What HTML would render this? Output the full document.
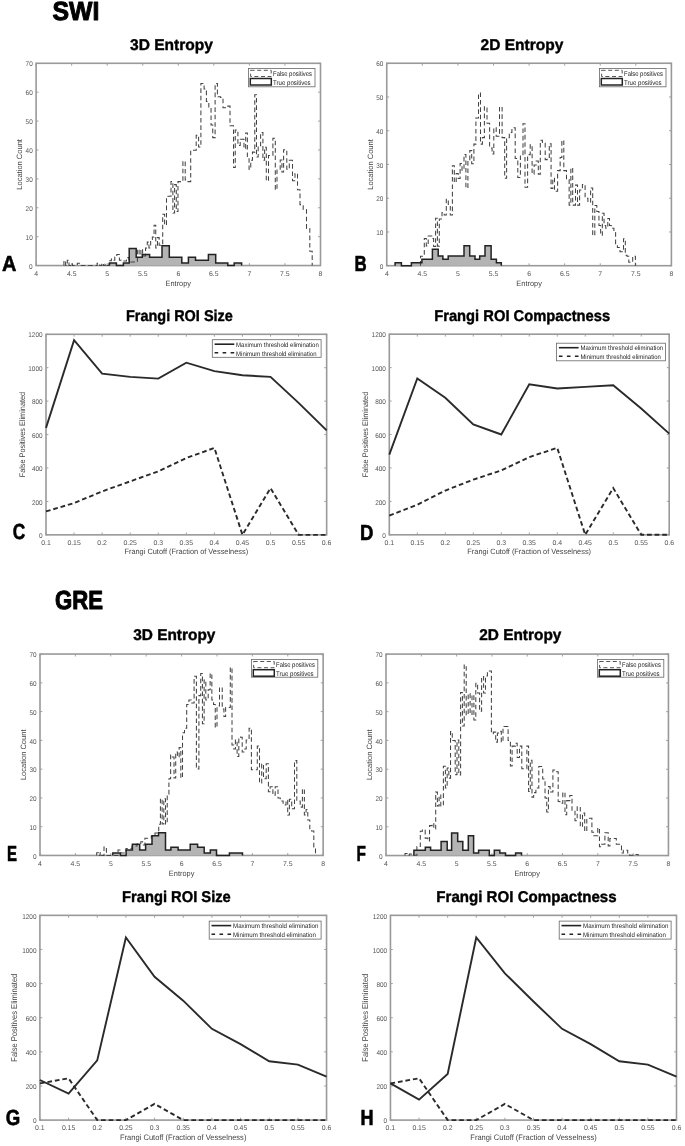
<!DOCTYPE html>
<html><head><meta charset="utf-8"><style>
html,body{margin:0;padding:0;background:#fff;}
svg{display:block;will-change:transform;font-family:"Liberation Sans", sans-serif;}
text{text-rendering:geometricPrecision;}
</style></head><body>
<svg width="685" height="1146" viewBox="0 0 685 1146">
<rect width="685" height="1146" fill="#fff"/>
<text x="52.5" y="19.8" font-size="26.2" fill="#000" font-weight="bold" textLength="46.9" lengthAdjust="spacingAndGlyphs" stroke="#000" stroke-width="1.0" stroke-linejoin="round">SWI</text>
<text x="55.1" y="608.7" font-size="26.2" fill="#000" font-weight="bold" textLength="48.0" lengthAdjust="spacingAndGlyphs" stroke="#000" stroke-width="1.0" stroke-linejoin="round">GRE</text>
<text x="130.0" y="49.8" font-size="15.6" fill="#000" font-weight="bold" textLength="83.0" lengthAdjust="spacingAndGlyphs" stroke="#000" stroke-width="0.4" stroke-linejoin="round">3D Entropy</text>
<text x="480.6" y="49.8" font-size="15.6" fill="#000" font-weight="bold" textLength="82.8" lengthAdjust="spacingAndGlyphs" stroke="#000" stroke-width="0.4" stroke-linejoin="round">2D Entropy</text>
<text x="126.0" y="320.8" font-size="15.6" fill="#000" font-weight="bold" textLength="106.8" lengthAdjust="spacingAndGlyphs" stroke="#000" stroke-width="0.4" stroke-linejoin="round">Frangi ROI Size</text>
<text x="434.2" y="321.1" font-size="15.6" fill="#000" font-weight="bold" textLength="176.0" lengthAdjust="spacingAndGlyphs" stroke="#000" stroke-width="0.4" stroke-linejoin="round">Frangi ROI Compactness</text>
<text x="133.2" y="640.4" font-size="15.6" fill="#000" font-weight="bold" textLength="82.2" lengthAdjust="spacingAndGlyphs" stroke="#000" stroke-width="0.4" stroke-linejoin="round">3D Entropy</text>
<text x="479.2" y="640.4" font-size="15.6" fill="#000" font-weight="bold" textLength="82.2" lengthAdjust="spacingAndGlyphs" stroke="#000" stroke-width="0.4" stroke-linejoin="round">2D Entropy</text>
<text x="122.0" y="901.8" font-size="15.6" fill="#000" font-weight="bold" textLength="108.8" lengthAdjust="spacingAndGlyphs" stroke="#000" stroke-width="0.4" stroke-linejoin="round">Frangi ROI Size</text>
<text x="436.3" y="902.3" font-size="15.6" fill="#000" font-weight="bold" textLength="180.3" lengthAdjust="spacingAndGlyphs" stroke="#000" stroke-width="0.4" stroke-linejoin="round">Frangi ROI Compactness</text>
<text x="1.9" y="270.8" font-size="21.799999999999997" fill="#000" font-weight="bold" textLength="14.4" lengthAdjust="spacingAndGlyphs" stroke="#000" stroke-width="0.6" stroke-linejoin="round">A</text>
<text x="354.4" y="270.8" font-size="21.799999999999997" fill="#000" font-weight="bold" textLength="12.2" lengthAdjust="spacingAndGlyphs" stroke="#000" stroke-width="0.6" stroke-linejoin="round">B</text>
<text x="12.8" y="539.3" font-size="21.799999999999997" fill="#000" font-weight="bold" textLength="12.5" lengthAdjust="spacingAndGlyphs" stroke="#000" stroke-width="0.6" stroke-linejoin="round">C</text>
<text x="360.0" y="539.5" font-size="21.799999999999997" fill="#000" font-weight="bold" textLength="13.4" lengthAdjust="spacingAndGlyphs" stroke="#000" stroke-width="0.6" stroke-linejoin="round">D</text>
<text x="7.1" y="860.8" font-size="21.799999999999997" fill="#000" font-weight="bold" textLength="10.0" lengthAdjust="spacingAndGlyphs" stroke="#000" stroke-width="0.6" stroke-linejoin="round">E</text>
<text x="356.5" y="860.8" font-size="21.799999999999997" fill="#000" font-weight="bold" textLength="9.4" lengthAdjust="spacingAndGlyphs" stroke="#000" stroke-width="0.6" stroke-linejoin="round">F</text>
<text x="5.8" y="1125.0" font-size="21.799999999999997" fill="#000" font-weight="bold" textLength="14.5" lengthAdjust="spacingAndGlyphs" stroke="#000" stroke-width="0.6" stroke-linejoin="round">G</text>
<text x="360.5" y="1125.2" font-size="21.799999999999997" fill="#000" font-weight="bold" textLength="13.1" lengthAdjust="spacingAndGlyphs" stroke="#000" stroke-width="0.6" stroke-linejoin="round">H</text>
<path d="M36.10,265.55v-2.4M36.10,63.30v2.4M71.65,265.55v-2.4M71.65,63.30v2.4M107.20,265.55v-2.4M107.20,63.30v2.4M142.75,265.55v-2.4M142.75,63.30v2.4M178.30,265.55v-2.4M178.30,63.30v2.4M213.85,265.55v-2.4M213.85,63.30v2.4M249.40,265.55v-2.4M249.40,63.30v2.4M284.95,265.55v-2.4M284.95,63.30v2.4M320.50,265.55v-2.4M320.50,63.30v2.4M36.10,265.55h2.4M320.50,265.55h-2.4M36.10,236.66h2.4M320.50,236.66h-2.4M36.10,207.76h2.4M320.50,207.76h-2.4M36.10,178.87h2.4M320.50,178.87h-2.4M36.10,149.98h2.4M320.50,149.98h-2.4M36.10,121.09h2.4M320.50,121.09h-2.4M36.10,92.19h2.4M320.50,92.19h-2.4M36.10,63.30h2.4M320.50,63.30h-2.4" stroke="#999" stroke-width="0.9" fill="none"/>
<rect x="36.10" y="63.30" width="284.40" height="202.25" stroke="#999" stroke-width="1.6" fill="none"/>
<text x="36.1" y="275.9" font-size="6.9" fill="#555" text-anchor="middle">4</text>
<text x="71.7" y="275.9" font-size="6.9" fill="#555" text-anchor="middle">4.5</text>
<text x="107.2" y="275.9" font-size="6.9" fill="#555" text-anchor="middle">5</text>
<text x="142.8" y="275.9" font-size="6.9" fill="#555" text-anchor="middle">5.5</text>
<text x="178.3" y="275.9" font-size="6.9" fill="#555" text-anchor="middle">6</text>
<text x="213.8" y="275.9" font-size="6.9" fill="#555" text-anchor="middle">6.5</text>
<text x="249.4" y="275.9" font-size="6.9" fill="#555" text-anchor="middle">7</text>
<text x="284.9" y="275.9" font-size="6.9" fill="#555" text-anchor="middle">7.5</text>
<text x="320.5" y="275.9" font-size="6.9" fill="#555" text-anchor="middle">8</text>
<text x="32.7" y="268.7" font-size="6.9" fill="#555" text-anchor="end" textLength="3.6" lengthAdjust="spacingAndGlyphs">0</text>
<text x="32.7" y="239.8" font-size="6.9" fill="#555" text-anchor="end" textLength="7.1" lengthAdjust="spacingAndGlyphs">10</text>
<text x="32.7" y="210.9" font-size="6.9" fill="#555" text-anchor="end" textLength="7.1" lengthAdjust="spacingAndGlyphs">20</text>
<text x="32.7" y="182.0" font-size="6.9" fill="#555" text-anchor="end" textLength="7.1" lengthAdjust="spacingAndGlyphs">30</text>
<text x="32.7" y="153.1" font-size="6.9" fill="#555" text-anchor="end" textLength="7.1" lengthAdjust="spacingAndGlyphs">40</text>
<text x="32.7" y="124.2" font-size="6.9" fill="#555" text-anchor="end" textLength="7.1" lengthAdjust="spacingAndGlyphs">50</text>
<text x="32.7" y="95.3" font-size="6.9" fill="#555" text-anchor="end" textLength="7.1" lengthAdjust="spacingAndGlyphs">60</text>
<text x="32.7" y="66.4" font-size="6.9" fill="#555" text-anchor="end" textLength="7.1" lengthAdjust="spacingAndGlyphs">70</text>
<text x="178.3" y="286.1" font-size="7.7" fill="#444" text-anchor="middle" textLength="25.5" lengthAdjust="spacingAndGlyphs">Entropy</text>
<text x="21.9" y="164.4" font-size="7.7" fill="#444" text-anchor="middle" textLength="50.6" lengthAdjust="spacingAndGlyphs" transform="rotate(-90 21.9 164.4)">Location Count</text>
<path d="M109.50,265.55V263.06H116.40V265.55H123.40V263.06H129.20V248.61H136.20V257.28H142.30V254.39H149.60V257.28H162.00V245.73H169.30V257.28H181.80V263.06H188.40V257.28H195.50V260.17H208.40V254.39H215.70V263.06H227.80V265.55H234.20V263.06H241.60V265.55V265.55Z" fill="#b4b4b4" stroke="none"/>
<path d="M63.92,265.55V260.70H65.62V265.40H67.32V260.20H69.02V265.40H70.72V263.70H72.41V265.40H77.30V263.30H80.10V265.40H97.10V263.30H99.70V265.40H101.70V263.30H103.40V265.40H105.10V264.00H106.80V265.40H109.00V260.70H111.35V258.90H113.05V260.20H114.80V257.00H116.80V254.40H119.40V260.20H121.30V261.00H126.50V257.60H129.00V262.00H137.40V249.20H139.10V255.00H140.90V249.00H142.60V256.00H145.56V247.90H147.26V242.10H148.96V247.90H150.66V239.50H152.36V236.90H154.06V225.30H155.75V247.90H157.45V237.60H159.15V245.30H162.70V214.30H164.60V225.00H166.50V196.20H171.00V181.40H172.88V213.00H174.57V184.60H176.28V211.50H177.97V181.60H182.90V161.20H185.20V180.00H188.00V181.60H190.70V150.20H196.20V135.20H198.60V147.00H200.90V83.40H204.10V88.90H206.40V101.40H208.80V107.00H211.05V125.00H212.75V137.60H215.10V83.40H217.40V96.70H220.60V97.50H223.00V107.70H225.30V106.10H230.00V125.80H233.55V167.40H235.25V130.00H237.90V145.40H240.20V139.20H243.97V148.60H245.67V132.90H247.37V158.70H249.07V169.30H250.77V160.30H252.46V152.10H254.77V94.80H256.47V157.00H258.17V145.60H260.60V132.50H262.90V160.30H264.60V147.20H266.30V180.80H268.50V155.40H272.90V138.20H275.30V189.80H277.00V169.30H280.20V160.00H281.90V172.00H283.60V149.70H286.80V169.30H289.30V160.30H292.50V180.80H295.00V173.40H297.50V189.80H300.00V204.60H303.20V209.50H306.50V228.40H309.80V251.30H312.20V265.40V265.55" fill="none" stroke="#444" stroke-width="1.05" stroke-dasharray="4.6 2.8"/>
<path d="M109.50,265.55V263.06H116.40V265.55H123.40V263.06H129.20V248.61H136.20V257.28H142.30V254.39H149.60V257.28H162.00V245.73H169.30V257.28H181.80V263.06H188.40V257.28H195.50V260.17H208.40V254.39H215.70V263.06H227.80V265.55H234.20V263.06H241.60V265.55V265.55" fill="none" stroke="#222" stroke-width="1.5" stroke-linejoin="miter"/>
<rect x="248.4" y="68.4" width="66.6" height="18.4" fill="#fff" stroke="#666" stroke-width="0.8"/>
<rect x="250.6" y="70.3" width="20.6" height="6.2" fill="none" stroke="#555" stroke-width="1" stroke-dasharray="4 2.6"/>
<rect x="250.3" y="78.5" width="21" height="6.5" fill="#fff" stroke="#222" stroke-width="1.5"/>
<text x="273.1" y="76.0" font-size="6.8" fill="#222" textLength="38.9" lengthAdjust="spacingAndGlyphs">False positives</text>
<text x="273.1" y="84.6" font-size="6.8" fill="#222" textLength="37.5" lengthAdjust="spacingAndGlyphs">True positives</text>
<path d="M386.75,265.70v-2.4M386.75,63.25v2.4M422.33,265.70v-2.4M422.33,63.25v2.4M457.91,265.70v-2.4M457.91,63.25v2.4M493.49,265.70v-2.4M493.49,63.25v2.4M529.08,265.70v-2.4M529.08,63.25v2.4M564.66,265.70v-2.4M564.66,63.25v2.4M600.24,265.70v-2.4M600.24,63.25v2.4M635.82,265.70v-2.4M635.82,63.25v2.4M671.40,265.70v-2.4M671.40,63.25v2.4M386.75,265.70h2.4M671.40,265.70h-2.4M386.75,231.96h2.4M671.40,231.96h-2.4M386.75,198.22h2.4M671.40,198.22h-2.4M386.75,164.47h2.4M671.40,164.47h-2.4M386.75,130.73h2.4M671.40,130.73h-2.4M386.75,96.99h2.4M671.40,96.99h-2.4M386.75,63.25h2.4M671.40,63.25h-2.4" stroke="#999" stroke-width="0.9" fill="none"/>
<rect x="386.75" y="63.25" width="284.65" height="202.45" stroke="#999" stroke-width="1.6" fill="none"/>
<text x="386.8" y="276.0" font-size="6.9" fill="#555" text-anchor="middle">4</text>
<text x="422.3" y="276.0" font-size="6.9" fill="#555" text-anchor="middle">4.5</text>
<text x="457.9" y="276.0" font-size="6.9" fill="#555" text-anchor="middle">5</text>
<text x="493.5" y="276.0" font-size="6.9" fill="#555" text-anchor="middle">5.5</text>
<text x="529.1" y="276.0" font-size="6.9" fill="#555" text-anchor="middle">6</text>
<text x="564.7" y="276.0" font-size="6.9" fill="#555" text-anchor="middle">6.5</text>
<text x="600.2" y="276.0" font-size="6.9" fill="#555" text-anchor="middle">7</text>
<text x="635.8" y="276.0" font-size="6.9" fill="#555" text-anchor="middle">7.5</text>
<text x="671.4" y="276.0" font-size="6.9" fill="#555" text-anchor="middle">8</text>
<text x="383.4" y="268.8" font-size="6.9" fill="#555" text-anchor="end" textLength="3.6" lengthAdjust="spacingAndGlyphs">0</text>
<text x="383.4" y="235.1" font-size="6.9" fill="#555" text-anchor="end" textLength="7.1" lengthAdjust="spacingAndGlyphs">10</text>
<text x="383.4" y="201.3" font-size="6.9" fill="#555" text-anchor="end" textLength="7.1" lengthAdjust="spacingAndGlyphs">20</text>
<text x="383.4" y="167.6" font-size="6.9" fill="#555" text-anchor="end" textLength="7.1" lengthAdjust="spacingAndGlyphs">30</text>
<text x="383.4" y="133.8" font-size="6.9" fill="#555" text-anchor="end" textLength="7.1" lengthAdjust="spacingAndGlyphs">40</text>
<text x="383.4" y="100.1" font-size="6.9" fill="#555" text-anchor="end" textLength="7.1" lengthAdjust="spacingAndGlyphs">50</text>
<text x="383.4" y="66.3" font-size="6.9" fill="#555" text-anchor="end" textLength="7.1" lengthAdjust="spacingAndGlyphs">60</text>
<text x="529.1" y="286.2" font-size="7.7" fill="#444" text-anchor="middle" textLength="25.5" lengthAdjust="spacingAndGlyphs">Entropy</text>
<text x="373.1" y="164.5" font-size="7.7" fill="#444" text-anchor="middle" textLength="50.6" lengthAdjust="spacingAndGlyphs" transform="rotate(-90 373.1 164.5)">Location Count</text>
<path d="M395.10,265.70V262.73H401.40V265.70H411.40V262.73H421.90V259.35H432.40V249.23H438.20V255.98H442.90V259.35H448.20V255.98H464.00V245.85H469.70V255.98H475.00V259.35H479.70V255.98H485.00V245.85H491.10V259.35H496.40V262.73H501.30V265.70V265.70Z" fill="#b4b4b4" stroke="none"/>
<path d="M420.50,265.70V256.20H424.30V238.50H426.30V246.00H428.20V236.00H431.80V238.50H433.60V246.50H435.60V218.20H437.40V246.10H439.30V219.00H442.00V212.40H444.20V214.90H446.30V199.20H448.30V205.90H450.30V214.90H452.40V165.70H454.30V182.50H456.20V173.50H458.20V178.50H460.10V163.50H462.00V170.20H464.00V154.50H465.90V188.00H467.90V160.00H469.80V150.60H471.70V163.80H473.90V144.10H475.90V118.00H478.50V93.10H480.50V144.10H482.40V137.60H484.40V106.80H487.00V123.20H489.60V148.00H492.10V154.00H493.80V127.80H496.20V136.30H499.50V106.80H502.10V137.60H504.70V178.20H506.60V137.60H509.30V132.40H511.90V127.80H515.20V158.50H517.80V177.50H520.40V155.30H523.00V123.80H525.00V187.30H527.60V154.60H530.20V144.80H532.10V174.10H534.10V165.00H536.20V161.00H538.30V174.10H540.30V140.30H542.40V143.00H545.20V159.60H547.20V157.50H549.30V143.80H551.07V188.50H552.77V178.20H554.47V191.30H557.60V170.60H560.15V157.50H561.85V140.30H563.80V170.60H566.50V179.60H569.15V205.10H570.85V167.90H572.70V205.10H575.50V185.10H577.50V205.10H579.60V189.90H582.40V184.40H585.10V198.20H587.90V202.30H590.60V187.90H592.70V235.40H594.80V205.40H596.80V211.50H598.94V225.50H600.64V235.20H602.34V213.30H604.04V225.50H605.74V228.20H607.80V218.50H609.50V225.50H611.30V228.20H613.90V232.50H615.60V244.80H617.40V247.40H620.00V251.80H623.50V238.70H625.30V255.30H627.00V256.20H628.80V262.30H632.70V256.20H635.40V265.20V265.70" fill="none" stroke="#444" stroke-width="1.05" stroke-dasharray="4.6 2.8"/>
<path d="M395.10,265.70V262.73H401.40V265.70H411.40V262.73H421.90V259.35H432.40V249.23H438.20V255.98H442.90V259.35H448.20V255.98H464.00V245.85H469.70V255.98H475.00V259.35H479.70V255.98H485.00V245.85H491.10V259.35H496.40V262.73H501.30V265.70V265.70" fill="none" stroke="#222" stroke-width="1.5" stroke-linejoin="miter"/>
<rect x="599.4" y="68.4" width="66.6" height="18.4" fill="#fff" stroke="#666" stroke-width="0.8"/>
<rect x="601.6" y="70.3" width="20.6" height="6.2" fill="none" stroke="#555" stroke-width="1" stroke-dasharray="4 2.6"/>
<rect x="601.3" y="78.5" width="21" height="6.5" fill="#fff" stroke="#222" stroke-width="1.5"/>
<text x="624.1" y="76.0" font-size="6.8" fill="#222" textLength="38.9" lengthAdjust="spacingAndGlyphs">False positives</text>
<text x="624.1" y="84.6" font-size="6.8" fill="#222" textLength="37.5" lengthAdjust="spacingAndGlyphs">True positives</text>
<path d="M40.00,855.45v-2.4M40.00,654.05v2.4M75.39,855.45v-2.4M75.39,654.05v2.4M110.79,855.45v-2.4M110.79,654.05v2.4M146.18,855.45v-2.4M146.18,654.05v2.4M181.57,855.45v-2.4M181.57,654.05v2.4M216.97,855.45v-2.4M216.97,654.05v2.4M252.36,855.45v-2.4M252.36,654.05v2.4M287.76,855.45v-2.4M287.76,654.05v2.4M323.15,855.45v-2.4M323.15,654.05v2.4M40.00,855.45h2.4M323.15,855.45h-2.4M40.00,826.68h2.4M323.15,826.68h-2.4M40.00,797.91h2.4M323.15,797.91h-2.4M40.00,769.14h2.4M323.15,769.14h-2.4M40.00,740.36h2.4M323.15,740.36h-2.4M40.00,711.59h2.4M323.15,711.59h-2.4M40.00,682.82h2.4M323.15,682.82h-2.4M40.00,654.05h2.4M323.15,654.05h-2.4" stroke="#999" stroke-width="0.9" fill="none"/>
<rect x="40.00" y="654.05" width="283.15" height="201.40" stroke="#999" stroke-width="1.6" fill="none"/>
<text x="40.0" y="865.8" font-size="6.9" fill="#555" text-anchor="middle">4</text>
<text x="75.4" y="865.8" font-size="6.9" fill="#555" text-anchor="middle">4.5</text>
<text x="110.8" y="865.8" font-size="6.9" fill="#555" text-anchor="middle">5</text>
<text x="146.2" y="865.8" font-size="6.9" fill="#555" text-anchor="middle">5.5</text>
<text x="181.6" y="865.8" font-size="6.9" fill="#555" text-anchor="middle">6</text>
<text x="217.0" y="865.8" font-size="6.9" fill="#555" text-anchor="middle">6.5</text>
<text x="252.4" y="865.8" font-size="6.9" fill="#555" text-anchor="middle">7</text>
<text x="287.8" y="865.8" font-size="6.9" fill="#555" text-anchor="middle">7.5</text>
<text x="323.1" y="865.8" font-size="6.9" fill="#555" text-anchor="middle">8</text>
<text x="36.6" y="858.6" font-size="6.9" fill="#555" text-anchor="end" textLength="3.6" lengthAdjust="spacingAndGlyphs">0</text>
<text x="36.6" y="829.8" font-size="6.9" fill="#555" text-anchor="end" textLength="7.1" lengthAdjust="spacingAndGlyphs">10</text>
<text x="36.6" y="801.0" font-size="6.9" fill="#555" text-anchor="end" textLength="7.1" lengthAdjust="spacingAndGlyphs">20</text>
<text x="36.6" y="772.2" font-size="6.9" fill="#555" text-anchor="end" textLength="7.1" lengthAdjust="spacingAndGlyphs">30</text>
<text x="36.6" y="743.5" font-size="6.9" fill="#555" text-anchor="end" textLength="7.1" lengthAdjust="spacingAndGlyphs">40</text>
<text x="36.6" y="714.7" font-size="6.9" fill="#555" text-anchor="end" textLength="7.1" lengthAdjust="spacingAndGlyphs">50</text>
<text x="36.6" y="685.9" font-size="6.9" fill="#555" text-anchor="end" textLength="7.1" lengthAdjust="spacingAndGlyphs">60</text>
<text x="36.6" y="657.1" font-size="6.9" fill="#555" text-anchor="end" textLength="7.1" lengthAdjust="spacingAndGlyphs">70</text>
<text x="181.6" y="876.0" font-size="7.7" fill="#444" text-anchor="middle" textLength="25.5" lengthAdjust="spacingAndGlyphs">Entropy</text>
<text x="25.8" y="754.8" font-size="7.7" fill="#444" text-anchor="middle" textLength="50.6" lengthAdjust="spacingAndGlyphs" transform="rotate(-90 25.8 754.8)">Location Count</text>
<path d="M112.80,855.45V852.97H120.40V855.45H126.10V850.10H132.40V844.34H139.70V850.10H145.60V844.34H152.00V835.71H158.50V832.83H165.50V850.10H170.90V847.22H178.10V850.10H190.20V844.34H197.60V847.22H204.20V852.97H210.30V850.10H216.50V855.45H229.40V852.97H242.50V855.45V855.45Z" fill="#b4b4b4" stroke="none"/>
<path d="M96.70,855.45V852.80H98.40V855.40H100.10V852.80H101.80V855.40H104.00V847.00H106.40V855.40H118.00V850.00H121.00V853.00H126.00V848.50H132.00V846.00H137.00V844.00H140.80V841.80H142.60V845.00H144.90V838.20H151.30V836.00H155.00V833.00H158.73V824.20H160.42V798.70H162.12V823.90H163.82V798.70H165.52V824.00H167.22V794.30H168.92V778.70H170.62V755.00H172.32V757.00H174.02V778.00H175.72V752.00H177.42V757.00H179.12V747.50H180.82V778.00H182.51V732.70H184.50V728.20H186.70V704.50H188.90V700.00H191.20V703.00H194.10V676.30H196.40V769.00H198.90V695.60H200.73V673.40H202.43V723.80H204.12V680.00H205.82V700.00H208.20V689.70H210.15V673.40H211.85V700.00H213.55V704.50H215.25V727.50H217.00V706.00H219.50V687.40H222.23V709.00H223.93V716.40H225.63V707.50H230.31V667.40H232.01V745.00H233.71V749.00H235.41V740.10H237.11V756.40H238.81V737.00H240.51V737.20H242.21V752.00H243.91V749.00H246.20V740.00H249.10V728.20H251.40V769.80H257.30V746.00H259.50V783.10H261.70V763.90H263.50V778.70H266.20V763.70H268.40V791.80H270.10V786.70H272.90V795.20H275.20V786.70H278.00V798.00H280.30V800.90H283.10V804.90H286.00V800.30H287.70V815.00H289.40V799.20H291.70V808.80H294.50V760.60H296.80V800.90H300.20V807.10H302.40V789.00H304.37V815.00H306.07V809.40H307.77V820.00H309.80V829.80H311.50V831.00H313.80V848.00H315.50V855.40V855.45" fill="none" stroke="#444" stroke-width="1.05" stroke-dasharray="4.6 2.8"/>
<path d="M112.80,855.45V852.97H120.40V855.45H126.10V850.10H132.40V844.34H139.70V850.10H145.60V844.34H152.00V835.71H158.50V832.83H165.50V850.10H170.90V847.22H178.10V850.10H190.20V844.34H197.60V847.22H204.20V852.97H210.30V850.10H216.50V855.45H229.40V852.97H242.50V855.45V855.45" fill="none" stroke="#222" stroke-width="1.5" stroke-linejoin="miter"/>
<rect x="251.4" y="659.6" width="66.4" height="17.6" fill="#fff" stroke="#666" stroke-width="0.8"/>
<rect x="253.6" y="661.5" width="20.6" height="6.2" fill="none" stroke="#555" stroke-width="1" stroke-dasharray="4 2.6"/>
<rect x="253.3" y="669.7" width="21" height="6.5" fill="#fff" stroke="#222" stroke-width="1.5"/>
<text x="276.1" y="667.2" font-size="6.8" fill="#222" textLength="38.9" lengthAdjust="spacingAndGlyphs">False positives</text>
<text x="276.1" y="675.8" font-size="6.8" fill="#222" textLength="37.5" lengthAdjust="spacingAndGlyphs">True positives</text>
<path d="M386.00,855.55v-2.4M386.00,654.10v2.4M421.31,855.55v-2.4M421.31,654.10v2.4M456.61,855.55v-2.4M456.61,654.10v2.4M491.92,855.55v-2.4M491.92,654.10v2.4M527.23,855.55v-2.4M527.23,654.10v2.4M562.53,855.55v-2.4M562.53,654.10v2.4M597.84,855.55v-2.4M597.84,654.10v2.4M633.14,855.55v-2.4M633.14,654.10v2.4M668.45,855.55v-2.4M668.45,654.10v2.4M386.00,855.55h2.4M668.45,855.55h-2.4M386.00,826.77h2.4M668.45,826.77h-2.4M386.00,797.99h2.4M668.45,797.99h-2.4M386.00,769.21h2.4M668.45,769.21h-2.4M386.00,740.44h2.4M668.45,740.44h-2.4M386.00,711.66h2.4M668.45,711.66h-2.4M386.00,682.88h2.4M668.45,682.88h-2.4M386.00,654.10h2.4M668.45,654.10h-2.4" stroke="#999" stroke-width="0.9" fill="none"/>
<rect x="386.00" y="654.10" width="282.45" height="201.45" stroke="#999" stroke-width="1.6" fill="none"/>
<text x="386.0" y="865.8" font-size="6.9" fill="#555" text-anchor="middle">4</text>
<text x="421.3" y="865.8" font-size="6.9" fill="#555" text-anchor="middle">4.5</text>
<text x="456.6" y="865.8" font-size="6.9" fill="#555" text-anchor="middle">5</text>
<text x="491.9" y="865.8" font-size="6.9" fill="#555" text-anchor="middle">5.5</text>
<text x="527.2" y="865.8" font-size="6.9" fill="#555" text-anchor="middle">6</text>
<text x="562.5" y="865.8" font-size="6.9" fill="#555" text-anchor="middle">6.5</text>
<text x="597.8" y="865.8" font-size="6.9" fill="#555" text-anchor="middle">7</text>
<text x="633.1" y="865.8" font-size="6.9" fill="#555" text-anchor="middle">7.5</text>
<text x="668.5" y="865.8" font-size="6.9" fill="#555" text-anchor="middle">8</text>
<text x="382.6" y="858.6" font-size="6.9" fill="#555" text-anchor="end" textLength="3.6" lengthAdjust="spacingAndGlyphs">0</text>
<text x="382.6" y="829.9" font-size="6.9" fill="#555" text-anchor="end" textLength="7.1" lengthAdjust="spacingAndGlyphs">10</text>
<text x="382.6" y="801.1" font-size="6.9" fill="#555" text-anchor="end" textLength="7.1" lengthAdjust="spacingAndGlyphs">20</text>
<text x="382.6" y="772.3" font-size="6.9" fill="#555" text-anchor="end" textLength="7.1" lengthAdjust="spacingAndGlyphs">30</text>
<text x="382.6" y="743.5" font-size="6.9" fill="#555" text-anchor="end" textLength="7.1" lengthAdjust="spacingAndGlyphs">40</text>
<text x="382.6" y="714.8" font-size="6.9" fill="#555" text-anchor="end" textLength="7.1" lengthAdjust="spacingAndGlyphs">50</text>
<text x="382.6" y="686.0" font-size="6.9" fill="#555" text-anchor="end" textLength="7.1" lengthAdjust="spacingAndGlyphs">60</text>
<text x="382.6" y="657.2" font-size="6.9" fill="#555" text-anchor="end" textLength="7.1" lengthAdjust="spacingAndGlyphs">70</text>
<text x="527.2" y="876.0" font-size="7.7" fill="#444" text-anchor="middle" textLength="25.5" lengthAdjust="spacingAndGlyphs">Entropy</text>
<text x="371.8" y="754.8" font-size="7.7" fill="#444" text-anchor="middle" textLength="50.6" lengthAdjust="spacingAndGlyphs" transform="rotate(-90 371.8 754.8)">Location Count</text>
<path d="M413.90,855.55V850.19H425.30V847.32H430.60V850.19H441.10V841.56H447.20V850.19H451.60V832.93H457.70V841.56H462.80V850.19H468.30V835.80H473.60V853.07H478.60V850.19H489.30V855.55H494.30V850.19H499.80V853.07H505.50V855.55H515.60V853.07H521.50V855.55V855.55Z" fill="#b4b4b4" stroke="none"/>
<path d="M405.00,855.55V853.50H407.65V855.20H409.35V854.00H411.30V855.20H416.90V846.50H420.30V831.20H422.40V829.80H425.20V838.10H427.85V841.00H429.55V825.60H432.10V823.50H433.80V829.00H435.70V792.10H437.40V806.00H439.10V795.00H440.80V806.00H443.40V766.30H445.40V787.90H447.15V768.00H448.85V778.10H450.55V731.40H452.25V740.50H455.20V774.60H457.00V740.00H458.80V774.90H460.60V692.40H462.40V726.00H464.20V664.90H466.20V715.00H468.20V693.60H470.10V714.40H472.00V695.00H473.90V719.90H475.80V683.20H477.60V693.00H479.60V711.30H481.60V676.50H483.60V693.00H485.50V676.00H487.40V671.00H491.40V733.60H493.30V732.10H495.70V742.10H497.40V733.00H499.60V731.30H501.30V742.00H503.00V726.50H508.10V740.40H510.40V765.90H512.10V746.10H515.50V743.30H517.20V757.40H519.50V746.10H521.80V768.80H526.88V746.10H528.58V791.50H530.28V760.30H531.98V797.10H533.68V792.60H535.90V788.00H538.80V766.50H542.70V779.00H545.03V798.00H546.73V812.00H548.42V786.60H550.12V791.90H552.90V770.00H554.60V771.80H558.20V801.50H559.90V803.30H562.80V792.30H565.00V814.70H566.70V800.60H569.80V795.40H572.00V810.30H575.00V820.80H577.20V806.80H580.30V826.90H582.50V812.90H584.70V831.30H586.80V818.20H591.90V832.20H593.60V835.80H597.77V828.00H599.47V846.80H601.17V844.20H604.90V832.80H608.20V845.90H609.90V838.50H616.30V844.20H621.50V852.90H623.30V850.30H627.70V854.70H629.40V855.20H632.90V854.50H638.20V855.20V855.55" fill="none" stroke="#444" stroke-width="1.05" stroke-dasharray="4.6 2.8"/>
<path d="M413.90,855.55V850.19H425.30V847.32H430.60V850.19H441.10V841.56H447.20V850.19H451.60V832.93H457.70V841.56H462.80V850.19H468.30V835.80H473.60V853.07H478.60V850.19H489.30V855.55H494.30V850.19H499.80V853.07H505.50V855.55H515.60V853.07H521.50V855.55V855.55" fill="none" stroke="#222" stroke-width="1.5" stroke-linejoin="miter"/>
<rect x="597.4" y="659.6" width="66.4" height="17.6" fill="#fff" stroke="#666" stroke-width="0.8"/>
<rect x="599.6" y="661.5" width="20.6" height="6.2" fill="none" stroke="#555" stroke-width="1" stroke-dasharray="4 2.6"/>
<rect x="599.3" y="669.7" width="21" height="6.5" fill="#fff" stroke="#222" stroke-width="1.5"/>
<text x="622.1" y="667.2" font-size="6.8" fill="#222" textLength="38.9" lengthAdjust="spacingAndGlyphs">False positives</text>
<text x="622.1" y="675.8" font-size="6.8" fill="#222" textLength="37.5" lengthAdjust="spacingAndGlyphs">True positives</text>
<path d="M46.00,534.85v-2.4M46.00,334.30v2.4M74.07,534.85v-2.4M74.07,334.30v2.4M102.13,534.85v-2.4M102.13,334.30v2.4M130.19,534.85v-2.4M130.19,334.30v2.4M158.26,534.85v-2.4M158.26,334.30v2.4M186.32,534.85v-2.4M186.32,334.30v2.4M214.39,534.85v-2.4M214.39,334.30v2.4M242.46,534.85v-2.4M242.46,334.30v2.4M270.52,534.85v-2.4M270.52,334.30v2.4M298.59,534.85v-2.4M298.59,334.30v2.4M326.65,534.85v-2.4M326.65,334.30v2.4M46.00,534.85h2.4M326.65,534.85h-2.4M46.00,501.43h2.4M326.65,501.43h-2.4M46.00,468.00h2.4M326.65,468.00h-2.4M46.00,434.58h2.4M326.65,434.58h-2.4M46.00,401.15h2.4M326.65,401.15h-2.4M46.00,367.73h2.4M326.65,367.73h-2.4M46.00,334.30h2.4M326.65,334.30h-2.4" stroke="#999" stroke-width="0.9" fill="none"/>
<rect x="46.00" y="334.30" width="280.65" height="200.55" stroke="#999" stroke-width="1.6" fill="none"/>
<text x="46.0" y="544.6" font-size="6.9" fill="#555" text-anchor="middle">0.1</text>
<text x="74.1" y="544.6" font-size="6.9" fill="#555" text-anchor="middle">0.15</text>
<text x="102.1" y="544.6" font-size="6.9" fill="#555" text-anchor="middle">0.2</text>
<text x="130.2" y="544.6" font-size="6.9" fill="#555" text-anchor="middle">0.25</text>
<text x="158.3" y="544.6" font-size="6.9" fill="#555" text-anchor="middle">0.3</text>
<text x="186.3" y="544.6" font-size="6.9" fill="#555" text-anchor="middle">0.35</text>
<text x="214.4" y="544.6" font-size="6.9" fill="#555" text-anchor="middle">0.4</text>
<text x="242.5" y="544.6" font-size="6.9" fill="#555" text-anchor="middle">0.45</text>
<text x="270.5" y="544.6" font-size="6.9" fill="#555" text-anchor="middle">0.5</text>
<text x="298.6" y="544.6" font-size="6.9" fill="#555" text-anchor="middle">0.55</text>
<text x="326.6" y="544.6" font-size="6.9" fill="#555" text-anchor="middle">0.6</text>
<text x="42.6" y="538.0" font-size="6.9" fill="#555" text-anchor="end" textLength="3.6" lengthAdjust="spacingAndGlyphs">0</text>
<text x="42.6" y="504.5" font-size="6.9" fill="#555" text-anchor="end" textLength="10.7" lengthAdjust="spacingAndGlyphs">200</text>
<text x="42.6" y="471.1" font-size="6.9" fill="#555" text-anchor="end" textLength="10.7" lengthAdjust="spacingAndGlyphs">400</text>
<text x="42.6" y="437.7" font-size="6.9" fill="#555" text-anchor="end" textLength="10.7" lengthAdjust="spacingAndGlyphs">600</text>
<text x="42.6" y="404.3" font-size="6.9" fill="#555" text-anchor="end" textLength="10.7" lengthAdjust="spacingAndGlyphs">800</text>
<text x="42.6" y="370.8" font-size="6.9" fill="#555" text-anchor="end" textLength="14.3" lengthAdjust="spacingAndGlyphs">1000</text>
<text x="42.6" y="337.4" font-size="6.9" fill="#555" text-anchor="end" textLength="14.3" lengthAdjust="spacingAndGlyphs">1200</text>
<text x="186.3" y="554.4" font-size="7.7" fill="#444" text-anchor="middle" textLength="123.7" lengthAdjust="spacingAndGlyphs">Frangi Cutoff (Fraction of Vesselness)</text>
<text x="24.8" y="434.6" font-size="8.0" fill="#444" text-anchor="middle" textLength="85.5" lengthAdjust="spacingAndGlyphs" transform="rotate(-90 24.8 434.6)">False Positives Eliminated</text>
<polyline points="46.00,511.45 74.07,503.10 102.13,491.40 130.19,481.37 158.26,471.34 186.32,457.97 214.39,447.95 242.46,534.85 270.52,488.06 298.59,534.85 326.65,534.85" fill="none" stroke="#2a2a2a" stroke-width="1.9" stroke-dasharray="4.7 2.9"/>
<polyline points="46.00,427.89 74.07,340.15 102.13,373.57 130.19,376.92 158.26,378.59 186.32,362.71 214.39,371.07 242.46,375.25 270.52,376.92 298.59,402.82 326.65,430.40" fill="none" stroke="#2a2a2a" stroke-width="1.9" stroke-linejoin="miter"/>
<rect x="212.3" y="339.7" width="108.8" height="17.6" fill="#fff" stroke="#666" stroke-width="0.8"/>
<path d="M214.6,344.2h19.7" stroke="#222" stroke-width="1.6"/>
<path d="M214.6,352.8h19.7" stroke="#222" stroke-width="1.6" stroke-dasharray="3.6 4.4"/>
<text x="236.1" y="346.9" font-size="6.5" fill="#222" textLength="82.7" lengthAdjust="spacingAndGlyphs">Maximum threshold elimination</text>
<text x="236.1" y="355.5" font-size="6.5" fill="#222" textLength="80.4" lengthAdjust="spacingAndGlyphs">Minimum threshold elimination</text>
<path d="M389.30,534.80v-2.4M389.30,334.20v2.4M417.29,534.80v-2.4M417.29,334.20v2.4M445.28,534.80v-2.4M445.28,334.20v2.4M473.27,534.80v-2.4M473.27,334.20v2.4M501.26,534.80v-2.4M501.26,334.20v2.4M529.25,534.80v-2.4M529.25,334.20v2.4M557.24,534.80v-2.4M557.24,334.20v2.4M585.23,534.80v-2.4M585.23,334.20v2.4M613.22,534.80v-2.4M613.22,334.20v2.4M641.21,534.80v-2.4M641.21,334.20v2.4M669.20,534.80v-2.4M669.20,334.20v2.4M389.30,534.80h2.4M669.20,534.80h-2.4M389.30,501.37h2.4M669.20,501.37h-2.4M389.30,467.93h2.4M669.20,467.93h-2.4M389.30,434.50h2.4M669.20,434.50h-2.4M389.30,401.07h2.4M669.20,401.07h-2.4M389.30,367.63h2.4M669.20,367.63h-2.4M389.30,334.20h2.4M669.20,334.20h-2.4" stroke="#999" stroke-width="0.9" fill="none"/>
<rect x="389.30" y="334.20" width="279.90" height="200.60" stroke="#999" stroke-width="1.6" fill="none"/>
<text x="389.3" y="544.6" font-size="6.9" fill="#555" text-anchor="middle">0.1</text>
<text x="417.3" y="544.6" font-size="6.9" fill="#555" text-anchor="middle">0.15</text>
<text x="445.3" y="544.6" font-size="6.9" fill="#555" text-anchor="middle">0.2</text>
<text x="473.3" y="544.6" font-size="6.9" fill="#555" text-anchor="middle">0.25</text>
<text x="501.3" y="544.6" font-size="6.9" fill="#555" text-anchor="middle">0.3</text>
<text x="529.2" y="544.6" font-size="6.9" fill="#555" text-anchor="middle">0.35</text>
<text x="557.2" y="544.6" font-size="6.9" fill="#555" text-anchor="middle">0.4</text>
<text x="585.2" y="544.6" font-size="6.9" fill="#555" text-anchor="middle">0.45</text>
<text x="613.2" y="544.6" font-size="6.9" fill="#555" text-anchor="middle">0.5</text>
<text x="641.2" y="544.6" font-size="6.9" fill="#555" text-anchor="middle">0.55</text>
<text x="669.2" y="544.6" font-size="6.9" fill="#555" text-anchor="middle">0.6</text>
<text x="385.9" y="537.9" font-size="6.9" fill="#555" text-anchor="end" textLength="3.6" lengthAdjust="spacingAndGlyphs">0</text>
<text x="385.9" y="504.5" font-size="6.9" fill="#555" text-anchor="end" textLength="10.7" lengthAdjust="spacingAndGlyphs">200</text>
<text x="385.9" y="471.0" font-size="6.9" fill="#555" text-anchor="end" textLength="10.7" lengthAdjust="spacingAndGlyphs">400</text>
<text x="385.9" y="437.6" font-size="6.9" fill="#555" text-anchor="end" textLength="10.7" lengthAdjust="spacingAndGlyphs">600</text>
<text x="385.9" y="404.2" font-size="6.9" fill="#555" text-anchor="end" textLength="10.7" lengthAdjust="spacingAndGlyphs">800</text>
<text x="385.9" y="370.7" font-size="6.9" fill="#555" text-anchor="end" textLength="14.3" lengthAdjust="spacingAndGlyphs">1000</text>
<text x="385.9" y="337.3" font-size="6.9" fill="#555" text-anchor="end" textLength="14.3" lengthAdjust="spacingAndGlyphs">1200</text>
<text x="529.2" y="554.3" font-size="7.7" fill="#444" text-anchor="middle" textLength="123.7" lengthAdjust="spacingAndGlyphs">Frangi Cutoff (Fraction of Vesselness)</text>
<text x="367.8" y="434.5" font-size="8.0" fill="#444" text-anchor="middle" textLength="85.5" lengthAdjust="spacingAndGlyphs" transform="rotate(-90 367.8 434.5)">False Positives Eliminated</text>
<polyline points="389.30,515.58 417.29,504.71 445.28,490.50 473.27,479.63 501.26,470.44 529.25,457.07 557.24,447.87 585.23,534.80 613.22,487.99 641.21,534.80 669.20,534.80" fill="none" stroke="#2a2a2a" stroke-width="1.9" stroke-dasharray="4.7 2.9"/>
<polyline points="389.30,454.56 417.29,378.50 445.28,397.72 473.27,424.47 501.26,434.50 529.25,384.35 557.24,388.53 585.23,386.86 613.22,385.19 641.21,408.59 669.20,433.66" fill="none" stroke="#2a2a2a" stroke-width="1.9" stroke-linejoin="miter"/>
<rect x="556.6" y="343.2" width="108.9" height="17.6" fill="#fff" stroke="#666" stroke-width="0.8"/>
<path d="M558.9,347.7h19.7" stroke="#222" stroke-width="1.6"/>
<path d="M558.9,356.3h19.7" stroke="#222" stroke-width="1.6" stroke-dasharray="3.6 4.4"/>
<text x="580.4" y="350.4" font-size="6.5" fill="#222" textLength="82.7" lengthAdjust="spacingAndGlyphs">Maximum threshold elimination</text>
<text x="580.4" y="359.0" font-size="6.5" fill="#222" textLength="80.4" lengthAdjust="spacingAndGlyphs">Minimum threshold elimination</text>
<path d="M39.90,1120.10v-2.4M39.90,915.35v2.4M68.57,1120.10v-2.4M68.57,915.35v2.4M97.23,1120.10v-2.4M97.23,915.35v2.4M125.90,1120.10v-2.4M125.90,915.35v2.4M154.56,1120.10v-2.4M154.56,915.35v2.4M183.22,1120.10v-2.4M183.22,915.35v2.4M211.89,1120.10v-2.4M211.89,915.35v2.4M240.56,1120.10v-2.4M240.56,915.35v2.4M269.22,1120.10v-2.4M269.22,915.35v2.4M297.89,1120.10v-2.4M297.89,915.35v2.4M326.55,1120.10v-2.4M326.55,915.35v2.4M39.90,1120.10h2.4M326.55,1120.10h-2.4M39.90,1085.97h2.4M326.55,1085.97h-2.4M39.90,1051.85h2.4M326.55,1051.85h-2.4M39.90,1017.72h2.4M326.55,1017.72h-2.4M39.90,983.60h2.4M326.55,983.60h-2.4M39.90,949.48h2.4M326.55,949.48h-2.4M39.90,915.35h2.4M326.55,915.35h-2.4" stroke="#999" stroke-width="0.9" fill="none"/>
<rect x="39.90" y="915.35" width="286.65" height="204.75" stroke="#999" stroke-width="1.6" fill="none"/>
<text x="39.9" y="1129.9" font-size="6.9" fill="#555" text-anchor="middle">0.1</text>
<text x="68.6" y="1129.9" font-size="6.9" fill="#555" text-anchor="middle">0.15</text>
<text x="97.2" y="1129.9" font-size="6.9" fill="#555" text-anchor="middle">0.2</text>
<text x="125.9" y="1129.9" font-size="6.9" fill="#555" text-anchor="middle">0.25</text>
<text x="154.6" y="1129.9" font-size="6.9" fill="#555" text-anchor="middle">0.3</text>
<text x="183.2" y="1129.9" font-size="6.9" fill="#555" text-anchor="middle">0.35</text>
<text x="211.9" y="1129.9" font-size="6.9" fill="#555" text-anchor="middle">0.4</text>
<text x="240.6" y="1129.9" font-size="6.9" fill="#555" text-anchor="middle">0.45</text>
<text x="269.2" y="1129.9" font-size="6.9" fill="#555" text-anchor="middle">0.5</text>
<text x="297.9" y="1129.9" font-size="6.9" fill="#555" text-anchor="middle">0.55</text>
<text x="326.6" y="1129.9" font-size="6.9" fill="#555" text-anchor="middle">0.6</text>
<text x="36.5" y="1123.2" font-size="6.9" fill="#555" text-anchor="end" textLength="3.6" lengthAdjust="spacingAndGlyphs">0</text>
<text x="36.5" y="1089.1" font-size="6.9" fill="#555" text-anchor="end" textLength="10.7" lengthAdjust="spacingAndGlyphs">200</text>
<text x="36.5" y="1054.9" font-size="6.9" fill="#555" text-anchor="end" textLength="10.7" lengthAdjust="spacingAndGlyphs">400</text>
<text x="36.5" y="1020.8" font-size="6.9" fill="#555" text-anchor="end" textLength="10.7" lengthAdjust="spacingAndGlyphs">600</text>
<text x="36.5" y="986.7" font-size="6.9" fill="#555" text-anchor="end" textLength="10.7" lengthAdjust="spacingAndGlyphs">800</text>
<text x="36.5" y="952.6" font-size="6.9" fill="#555" text-anchor="end" textLength="14.3" lengthAdjust="spacingAndGlyphs">1000</text>
<text x="36.5" y="918.5" font-size="6.9" fill="#555" text-anchor="end" textLength="14.3" lengthAdjust="spacingAndGlyphs">1200</text>
<text x="183.2" y="1139.6" font-size="7.9" fill="#444" text-anchor="middle" textLength="126.4" lengthAdjust="spacingAndGlyphs">Frangi Cutoff (Fraction of Vesselness)</text>
<text x="17.3" y="1017.7" font-size="8.4" fill="#444" text-anchor="middle" textLength="88.0" lengthAdjust="spacingAndGlyphs" transform="rotate(-90 17.3 1017.7)">False Positives Eliminated</text>
<polyline points="39.90,1083.42 68.57,1078.30 97.23,1120.10 125.90,1120.10 154.56,1103.89 183.22,1120.10 211.89,1120.10 240.56,1120.10 269.22,1120.10 297.89,1120.10 326.55,1120.10" fill="none" stroke="#2a2a2a" stroke-width="1.9" stroke-dasharray="4.7 2.9"/>
<polyline points="39.90,1080.00 68.57,1093.65 97.23,1060.38 125.90,937.53 154.56,976.77 183.22,1000.66 211.89,1028.82 240.56,1044.17 269.22,1061.23 297.89,1064.65 326.55,1076.59" fill="none" stroke="#2a2a2a" stroke-width="1.9" stroke-linejoin="miter"/>
<rect x="209.2" y="921.1" width="111.9" height="18.0" fill="#fff" stroke="#666" stroke-width="0.8"/>
<path d="M211.5,925.6h19.7" stroke="#222" stroke-width="1.6"/>
<path d="M211.5,934.2h19.7" stroke="#222" stroke-width="1.6" stroke-dasharray="3.6 4.4"/>
<text x="233.0" y="928.3" font-size="6.5" fill="#222" textLength="85.4" lengthAdjust="spacingAndGlyphs">Maximum threshold elimination</text>
<text x="233.0" y="936.9" font-size="6.5" fill="#222" textLength="82.9" lengthAdjust="spacingAndGlyphs">Minimum threshold elimination</text>
<path d="M390.45,1120.10v-2.4M390.45,915.35v2.4M419.06,1120.10v-2.4M419.06,915.35v2.4M447.66,1120.10v-2.4M447.66,915.35v2.4M476.26,1120.10v-2.4M476.26,915.35v2.4M504.87,1120.10v-2.4M504.87,915.35v2.4M533.47,1120.10v-2.4M533.47,915.35v2.4M562.08,1120.10v-2.4M562.08,915.35v2.4M590.69,1120.10v-2.4M590.69,915.35v2.4M619.29,1120.10v-2.4M619.29,915.35v2.4M647.89,1120.10v-2.4M647.89,915.35v2.4M676.50,1120.10v-2.4M676.50,915.35v2.4M390.45,1120.10h2.4M676.50,1120.10h-2.4M390.45,1085.97h2.4M676.50,1085.97h-2.4M390.45,1051.85h2.4M676.50,1051.85h-2.4M390.45,1017.72h2.4M676.50,1017.72h-2.4M390.45,983.60h2.4M676.50,983.60h-2.4M390.45,949.48h2.4M676.50,949.48h-2.4M390.45,915.35h2.4M676.50,915.35h-2.4" stroke="#999" stroke-width="0.9" fill="none"/>
<rect x="390.45" y="915.35" width="286.05" height="204.75" stroke="#999" stroke-width="1.6" fill="none"/>
<text x="390.4" y="1129.9" font-size="6.9" fill="#555" text-anchor="middle">0.1</text>
<text x="419.1" y="1129.9" font-size="6.9" fill="#555" text-anchor="middle">0.15</text>
<text x="447.7" y="1129.9" font-size="6.9" fill="#555" text-anchor="middle">0.2</text>
<text x="476.3" y="1129.9" font-size="6.9" fill="#555" text-anchor="middle">0.25</text>
<text x="504.9" y="1129.9" font-size="6.9" fill="#555" text-anchor="middle">0.3</text>
<text x="533.5" y="1129.9" font-size="6.9" fill="#555" text-anchor="middle">0.35</text>
<text x="562.1" y="1129.9" font-size="6.9" fill="#555" text-anchor="middle">0.4</text>
<text x="590.7" y="1129.9" font-size="6.9" fill="#555" text-anchor="middle">0.45</text>
<text x="619.3" y="1129.9" font-size="6.9" fill="#555" text-anchor="middle">0.5</text>
<text x="647.9" y="1129.9" font-size="6.9" fill="#555" text-anchor="middle">0.55</text>
<text x="676.5" y="1129.9" font-size="6.9" fill="#555" text-anchor="middle">0.6</text>
<text x="387.1" y="1123.2" font-size="6.9" fill="#555" text-anchor="end" textLength="3.6" lengthAdjust="spacingAndGlyphs">0</text>
<text x="387.1" y="1089.1" font-size="6.9" fill="#555" text-anchor="end" textLength="10.7" lengthAdjust="spacingAndGlyphs">200</text>
<text x="387.1" y="1054.9" font-size="6.9" fill="#555" text-anchor="end" textLength="10.7" lengthAdjust="spacingAndGlyphs">400</text>
<text x="387.1" y="1020.8" font-size="6.9" fill="#555" text-anchor="end" textLength="10.7" lengthAdjust="spacingAndGlyphs">600</text>
<text x="387.1" y="986.7" font-size="6.9" fill="#555" text-anchor="end" textLength="10.7" lengthAdjust="spacingAndGlyphs">800</text>
<text x="387.1" y="952.6" font-size="6.9" fill="#555" text-anchor="end" textLength="14.3" lengthAdjust="spacingAndGlyphs">1000</text>
<text x="387.1" y="918.5" font-size="6.9" fill="#555" text-anchor="end" textLength="14.3" lengthAdjust="spacingAndGlyphs">1200</text>
<text x="533.5" y="1139.6" font-size="7.9" fill="#444" text-anchor="middle" textLength="126.4" lengthAdjust="spacingAndGlyphs">Frangi Cutoff (Fraction of Vesselness)</text>
<text x="367.8" y="1017.7" font-size="8.4" fill="#444" text-anchor="middle" textLength="88.0" lengthAdjust="spacingAndGlyphs" transform="rotate(-90 367.8 1017.7)">False Positives Eliminated</text>
<polyline points="390.45,1083.42 419.06,1078.30 447.66,1120.10 476.26,1120.10 504.87,1103.89 533.47,1120.10 562.08,1120.10 590.69,1120.10 619.29,1120.10 647.89,1120.10 676.50,1120.10" fill="none" stroke="#2a2a2a" stroke-width="1.9" stroke-dasharray="4.7 2.9"/>
<polyline points="390.45,1083.42 419.06,1099.62 447.66,1074.03 476.26,937.53 504.87,973.36 533.47,1001.52 562.08,1028.82 590.69,1044.17 619.29,1061.23 647.89,1064.65 676.50,1076.59" fill="none" stroke="#2a2a2a" stroke-width="1.9" stroke-linejoin="miter"/>
<rect x="559.2" y="921.1" width="111.9" height="18.0" fill="#fff" stroke="#666" stroke-width="0.8"/>
<path d="M561.5,925.6h19.7" stroke="#222" stroke-width="1.6"/>
<path d="M561.5,934.2h19.7" stroke="#222" stroke-width="1.6" stroke-dasharray="3.6 4.4"/>
<text x="583.0" y="928.3" font-size="6.5" fill="#222" textLength="85.4" lengthAdjust="spacingAndGlyphs">Maximum threshold elimination</text>
<text x="583.0" y="936.9" font-size="6.5" fill="#222" textLength="82.9" lengthAdjust="spacingAndGlyphs">Minimum threshold elimination</text>
</svg>
</body></html>
